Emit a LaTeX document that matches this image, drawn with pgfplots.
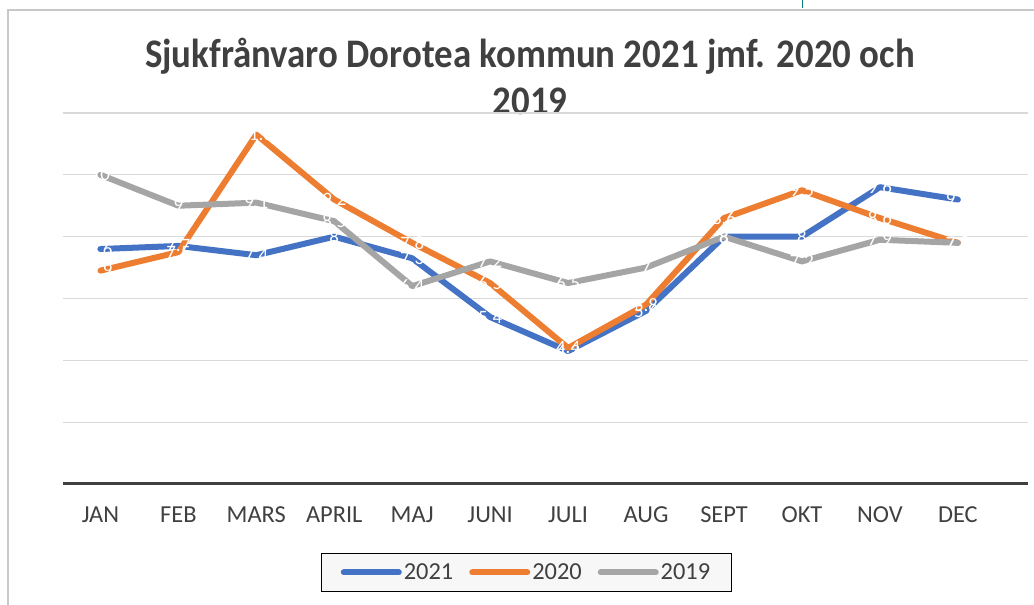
\documentclass[border=0pt]{standalone}
\usepackage{pgfplots}
\pgfplotsset{compat=1.18}
\usepackage{fontspec}
\setmainfont{Carlito}
\definecolor{c21}{HTML}{4472C4}
\definecolor{c20}{HTML}{ED7D31}
\definecolor{c19}{HTML}{A5A5A5}
\definecolor{txt}{HTML}{404040}
\definecolor{gridc}{HTML}{D9D9D9}
\definecolor{framec}{HTML}{C8C8C8}
\begin{document}
\begin{tikzpicture}[x=1bp,y=1bp]
\useasboundingbox (0,0) rectangle (1034,605);
\draw[framec, line width=1.5bp] (8,0) -- (8,595) -- (1034,595);
\draw[teal, line width=1bp] (802,605) -- (802,597);
\node[font=\fontsize{37}{40}\selectfont\bfseries, text=txt] at (530,549) {\scalebox{1}[1.1]{Sjukfrånvaro Dorotea kommun 2021 jmf. 2020 och}};
\node[font=\fontsize{37}{40}\selectfont\bfseries, text=txt] at (530,504) {\scalebox{1}[1.1]{2019}};
\begin{axis}[
  at={(63bp,121bp)}, anchor=south west,
  scale only axis, width=965bp, height=371bp,
  xmin=-0.48, xmax=11.9, ymin=0, ymax=12,
  xtick={0,...,11},
  xticklabels={JAN,FEB,MARS,APRIL,MAJ,JUNI,JULI,AUG,SEPT,OKT,NOV,DEC},
  xticklabel style={font=\fontsize{24.5}{26}\selectfont, text=txt, yshift=-19bp},
  ytick={0,2,...,12}, yticklabels={},
  axis x line=bottom, axis y line=left,
  x axis line style={-, line width=3bp, color=txt},
  y axis line style={draw=none},
  major tick length=0pt,
  ymajorgrids, grid style={gridc, line width=1.3bp},
  clip=false,
  legend columns=3,
  legend style={at={(0.4803,-0.2385)}, anchor=center, draw=black, line width=1bp,
    fill=white!97!black, font=\fontsize{24.5}{26}\selectfont, text=txt,
    inner xsep=19bp, inner ysep=8bp,
    /tikz/every even column/.append style={column sep=14bp}},
  legend image code/.code={\draw[line width=6bp, line cap=round] (0bp,0bp) -- (55bp,0bp);},
  nodes near coords,
  every node near coord/.append style={font=\fontsize{19}{20}\selectfont, text=white, anchor=center, inner sep=0pt},
  /pgf/number format/assume math mode=true,
  /pgf/number format/precision=1,
  every axis plot/.append style={line width=6bp, line join=round, line cap=round, mark=none},
]
\addplot[c21] coordinates {(0,7.6)(1,7.7)(2,7.4)(3,8.0)(4,7.3)(5,5.4)(6,4.3)(7,5.6)(8,8.0)(9,8.0)(10,9.6)(11,9.2)};
\addlegendentry{2021}
\addplot[c20] coordinates {(0,6.9)(1,7.5)(2,11.3)(3,9.2)(4,7.8)(5,6.5)(6,4.4)(7,5.8)(8,8.6)(9,9.5)(10,8.6)(11,7.8)};
\addlegendentry{2020}
\addplot[c19] coordinates {(0,10)(1,9.0)(2,9.1)(3,8.5)(4,6.4)(5,7.2)(6,6.5)(7,7.0)(8,8.0)(9,7.2)(10,7.9)(11,7.8)};
\addlegendentry{2019}
\end{axis}
\end{tikzpicture}
\end{document}
